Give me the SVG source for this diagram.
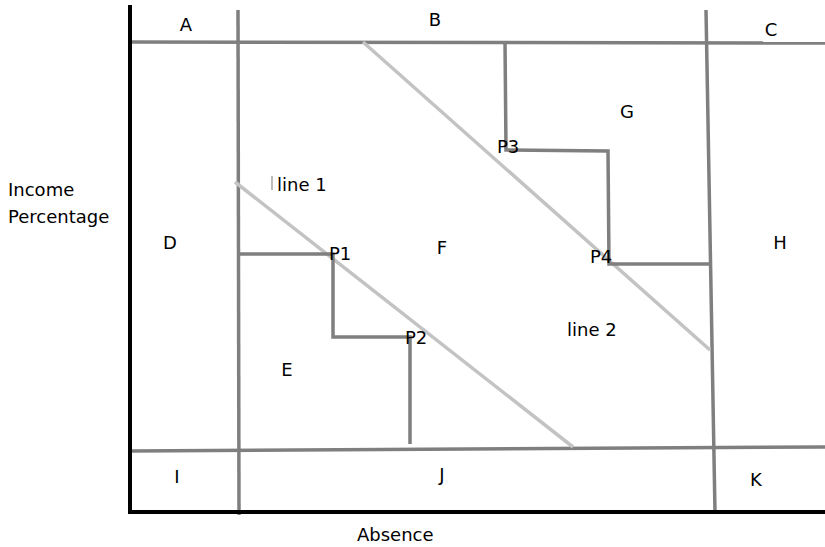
<svg xmlns="http://www.w3.org/2000/svg" width="825" height="547" viewBox="0 0 825 547">
<style>
.ax{stroke:#000;stroke-width:4;fill:none}
.g{stroke:#7f7f7f;stroke-width:3.5;fill:none;stroke-linecap:butt}
.lg{stroke:#c3c3c3;stroke-width:3.5;fill:none}
text{font-family:"DejaVu Sans","Liberation Sans",sans-serif;font-size:18px;fill:#000}
.c{text-anchor:middle}
</style>
<rect width="825" height="547" fill="#fff"/>
<g id="grid">
<line class="g" x1="130" y1="42" x2="825" y2="43"/>
<line class="g" x1="238" y1="10" x2="239" y2="515"/>
<line class="g" x1="706" y1="10" x2="715" y2="512"/>
<line class="g" x1="130" y1="451" x2="825" y2="447"/>
</g>
<g id="diagonals">
<line class="lg" x1="235" y1="182" x2="573" y2="447"/>
<line class="lg" x1="363" y1="42" x2="710" y2="350"/>
<line x1="272" y1="176" x2="272" y2="190" stroke="#bbb" stroke-width="2"/>
</g>
<g id="steps">
<polyline class="g" points="238,254 333,254 333,337 410,337 410,444"/>
<polyline class="g" points="505,42 506,150 608,151 609,264 710,264"/>
</g>
<g id="axes">
<line class="ax" x1="130" y1="5" x2="130" y2="514"/>
<line class="ax" x1="128" y1="512" x2="825" y2="512"/>
</g>
<g id="labels">
<text class="c" x="186" y="31">A</text>
<text class="c" x="435" y="26">B</text>
<text class="c" x="771" y="36">C</text>
<text class="c" x="170" y="249">D</text>
<text class="c" x="442" y="254">F</text>
<text class="c" x="627" y="118">G</text>
<text class="c" x="780" y="249">H</text>
<text class="c" x="287" y="376">E</text>
<text class="c" x="177" y="483">I</text>
<text class="c" x="442" y="481">J</text>
<text class="c" x="756" y="486">K</text>
<text x="277" y="191">line 1</text>
<text x="567" y="336">line 2</text>
<text x="329" y="260">P1</text>
<text x="405" y="344">P2</text>
<text x="497" y="153">P3</text>
<text x="590" y="263">P4</text>
<text x="8" y="196">Income</text>
<text x="8" y="223">Percentage</text>
<text x="357" y="541">Absence</text>
</g>
</svg>
